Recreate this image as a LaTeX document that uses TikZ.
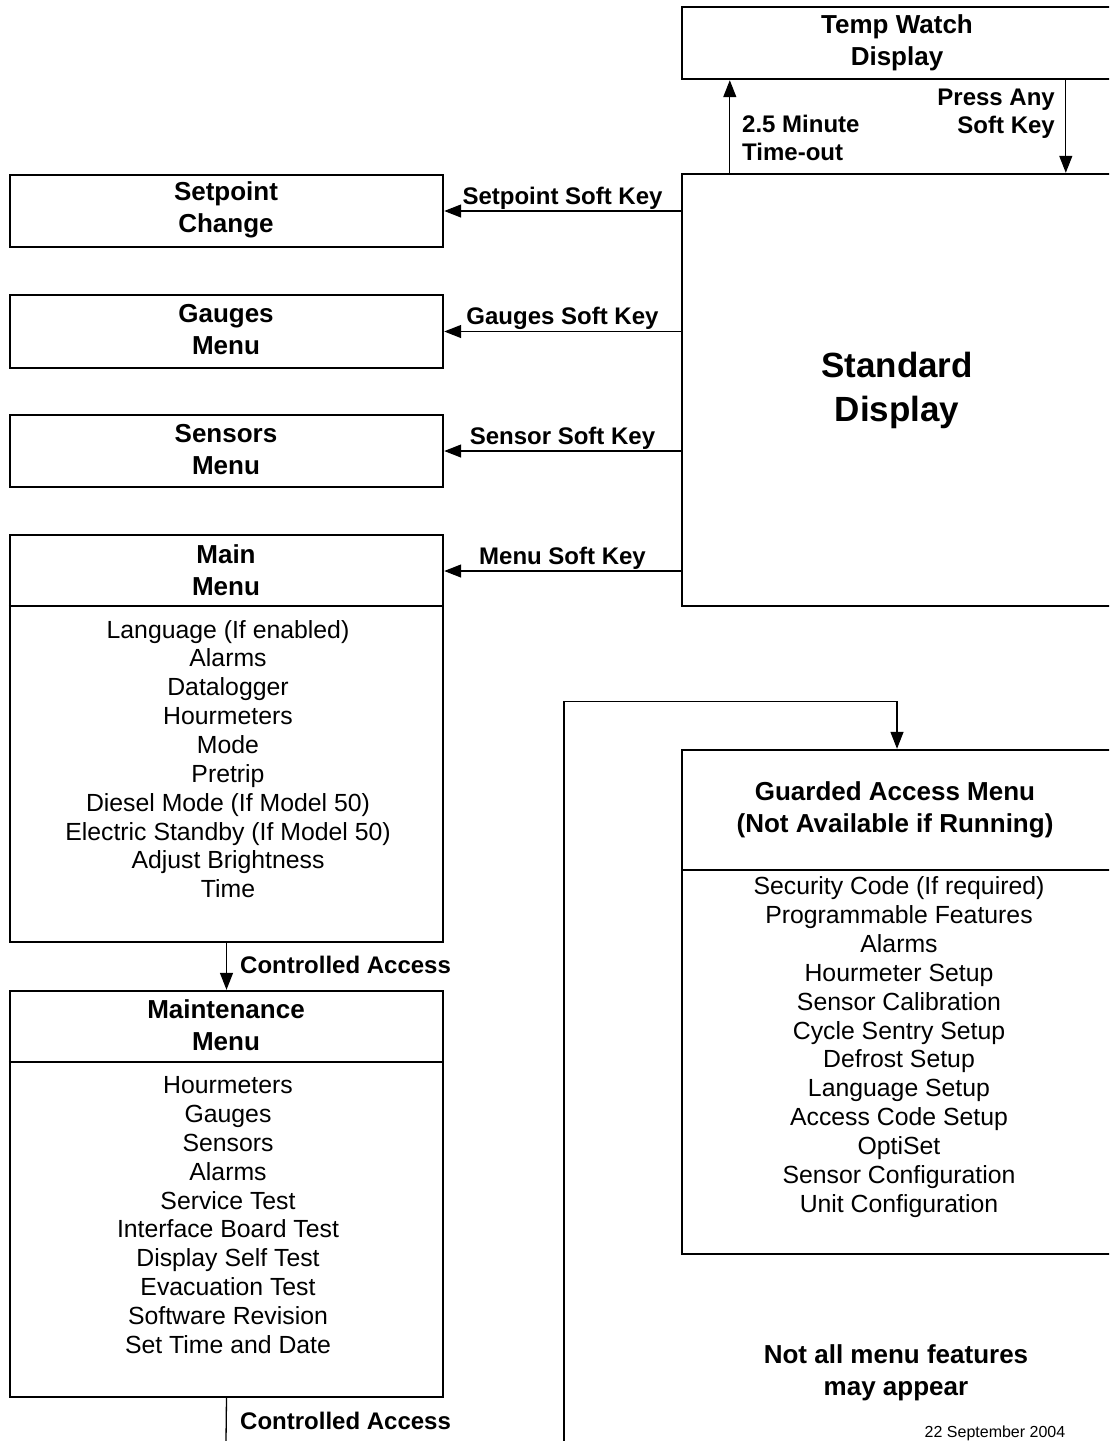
\documentclass[tikz,border=0pt]{standalone}
\usepackage{fontspec}
\setmainfont{Liberation Sans}
\usetikzlibrary{arrows.meta}

\tikzset{
  box/.style={draw, line width=2.4pt, inner sep=0pt},
  head/.style={font=\fontsize{26}{32}\selectfont\bfseries, align=center},
  items/.style={font=\fontsize{24.8}{28.85}\selectfont, align=center},
  keylabel/.style={font=\fontsize{24}{28}\selectfont\bfseries, inner sep=1pt},
  arr/.style={line width=1.3pt, -{Triangle[length=17pt,width=13pt]}},
  wire/.style={line width=1.3pt}
}

\begin{document}
\begin{tikzpicture}[x=1pt,y=-1pt]
  \useasboundingbox (0,0) rectangle (1109,1441);
  \clip (0,0) rectangle (1109,1441);

  % right column
  \node[box, minimum width=430pt, minimum height=72pt] (tw) at (897,43) {};
  \node[head] at (897,43) {Temp Watch\\Display};

  \node[box, minimum width=430pt, minimum height=432pt] (std) at (897,390) {};
  \node[font=\fontsize{35}{44}\selectfont\bfseries, align=center] at (897,390) {Standard\\Display};

  \draw[arr] ([xshift=49pt]std.north west) -- ([xshift=49pt]tw.south west);
  \node[keylabel, anchor=west, align=left] at (741,138) {2.5 Minute\\Time-out};
  \draw[arr] ([xshift=385pt]tw.south west) -- ([xshift=385pt]std.north west);
  \node[keylabel, anchor=east, align=right] at (1056,114) {Press Any\\Soft Key};

  % left column
  \node[box, minimum width=433pt, minimum height=72pt] (setp) at (226.5,211) {};
  \node[head] at (226,210) {Setpoint\\Change};
  \node[box, minimum width=433pt, minimum height=73pt] (gauge) at (226.5,331.5) {};
  \node[head] at (226,330) {Gauges\\Menu};
  \node[box, minimum width=433pt, minimum height=72pt] (sens) at (226.5,451) {};
  \node[head] at (226,450) {Sensors\\Menu};

  \draw[arr] (std.west |- setp.east) -- node[keylabel, above] {Setpoint Soft Key} (setp.east);
  \draw[arr] (std.west |- gauge.east) -- node[keylabel, above] {Gauges Soft Key} (gauge.east);
  \draw[arr] (std.west |- sens.east) -- node[keylabel, above] {Sensor Soft Key} (sens.east);

  % main menu
  \node[box, minimum width=433pt, minimum height=407pt] (main) at (226.5,738.5) {};
  \node[head] at (226,570) {Main\\Menu};
  \draw[line width=2.4pt] (main.west |- 0,606) -- (main.east |- 0,606);
  \draw[arr] (std.west |- 0,571) -- node[keylabel, above] {Menu Soft Key} (main.east |- 0,571);
  \node[items] at (228,759) {Language (If enabled)\\Alarms\\Datalogger\\Hourmeters\\Mode\\Pretrip\\Diesel Mode (If Model 50)\\Electric Standby (If Model 50)\\Adjust Brightness\\Time};

  % maintenance menu
  \node[box, minimum width=433pt, minimum height=406pt] (maint) at (226.5,1194) {};
  \node[head] at (226,1025) {Maintenance\\Menu};
  \draw[line width=2.4pt] (maint.west |- 0,1062) -- (maint.east |- 0,1062);
  \node[items] at (228,1215) {Hourmeters\\Gauges\\Sensors\\Alarms\\Service Test\\Interface Board Test\\Display Self Test\\Evacuation Test\\Software Revision\\Set Time and Date};

  \draw[arr] (main.south) -- (maint.north);
  \node[keylabel, anchor=west] at (239,965) {Controlled Access};

  \coordinate (mend) at (226,1441);
  \draw[wire] (maint.south) -- (mend);
  \node[keylabel, anchor=west] at (239,1421) {Controlled Access};

  % guarded access menu
  \node[box, minimum width=430pt, minimum height=504pt] (guard) at (897,1002) {};
  \node[head] at (895,810) {Guarded Access Menu\\(Not Available if Running)};
  \draw[line width=2.4pt] (guard.west |- 0,870) -- (guard.east |- 0,870);
  \node[items] at (899,1047) {Security Code (If required)\\Programmable Features\\Alarms\\Hourmeter Setup\\Sensor Calibration\\Cycle Sentry Setup\\Defrost Setup\\Language Setup\\Access Code Setup\\OptiSet\\Sensor Configuration\\Unit Configuration};

  \coordinate (gstart) at (564,1441);
  \draw[arr] (gstart) |- ([yshift=47pt]guard.north) -- (guard.north);

  \node[head] at (896,1373) {Not all menu features\\may appear};
  \node[font=\fontsize{16}{18}\selectfont] at (995,1433) {22 September 2004};
\end{tikzpicture}
\end{document}
